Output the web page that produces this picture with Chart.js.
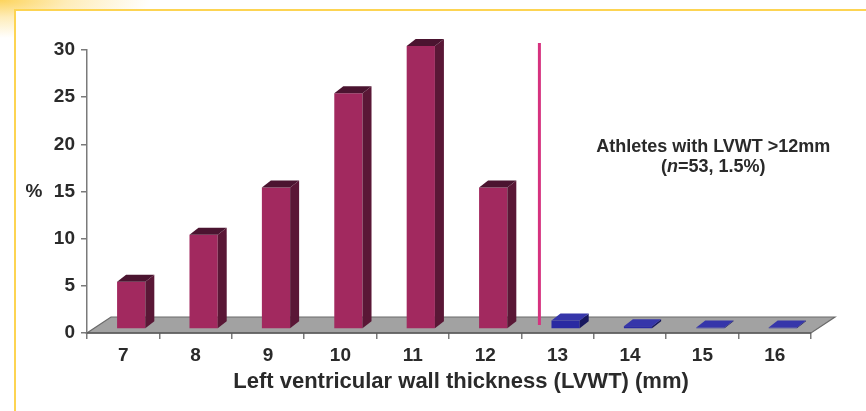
<!DOCTYPE html>
<html>
<head>
<meta charset="utf-8">
<script src="https://cdn.jsdelivr.net/npm/chart.js@4.4.0/dist/chart.umd.min.js"></script>
<style>
  html, body { margin: 0; padding: 0; background: #fff; }
  #wrap { position: relative; width: 866px; height: 411px; overflow: hidden; }
  #glow {
    position: absolute; left: 0; top: 0; width: 866px; height: 411px;
    background: radial-gradient(ellipse 150px 38px at 0 0,
      rgba(252, 204, 64, 0.85) 0%, rgba(253, 214, 100, 0.45) 45%, rgba(255, 255, 255, 0) 100%);
  }
  #frame {
    position: absolute; left: 14px; top: 9px; width: 900px; height: 500px;
    border-top: 2px solid #fdd452; border-left: 2px solid #fdd452; background: #fff;
  }
  canvas { position: absolute; left: 0; top: 0; }
</style>
</head>
<body>
<div id="wrap">
  <div id="glow"></div>
  <div id="frame"></div>
  <canvas id="c" width="866" height="411"></canvas>
</div>
<script>
// Left ventricular wall thickness categories (mm) and share of athletes (%)
const thicknessMm = ['7', '8', '9', '10', '11', '12', '13', '14', '15', '16'];
const athletesPct = [5, 10, 15, 25, 30, 15, 0.9, 0.3, 0.15, 0.15];
const yTicks = [0, 5, 10, 15, 20, 25, 30];
const cutoffMm = 12;
const noteLine1 = 'Athletes with LVWT >12mm';
const noteLine2 = [['(', false], ['n', true], ['=53, 1.5%)', false]];
const xTitle = 'Left ventricular wall thickness (LVWT) (mm)';
const yTitle = '%';

const FONT = '"Liberation Sans", Arial, sans-serif';
const INK = '#2a2a2a';
const AXIS = '#7a7a7a';
const FACES = {
  normal: { front: '#a2295f', side: '#5a1736', top: '#4b1430' },
  high:   { front: '#2a2aa2', side: '#17175e', top: '#3636aa' }
};
const BAR_SHIFT = { x: 8, y: -4 };     // bars sit midway into the floor depth
const BAR_DEPTH = { x: 9, y: -7 };     // extrusion of each bar
const FLOOR_DEPTH = { x: 24, y: -16 }; // depth of the floor plane

const faceFor = i => (Number(thicknessMm[i]) > cutoffMm ? FACES.high : FACES.normal);

const depth3d = {
  id: 'depth3d',
  beforeDatasetsDraw(chart) {
    const { ctx, chartArea: a } = chart;
    // floor plane
    ctx.save();
    ctx.beginPath();
    ctx.moveTo(a.left, a.bottom);
    ctx.lineTo(a.right, a.bottom);
    ctx.lineTo(a.right + FLOOR_DEPTH.x, a.bottom + FLOOR_DEPTH.y);
    ctx.lineTo(a.left + FLOOR_DEPTH.x, a.bottom + FLOOR_DEPTH.y);
    ctx.closePath();
    ctx.fillStyle = '#a2a2a2';
    ctx.fill();
    ctx.lineWidth = 1.2;
    ctx.strokeStyle = '#6a6a6a';
    ctx.stroke();
    ctx.beginPath();
    ctx.moveTo(a.left, a.bottom);
    ctx.lineTo(a.right, a.bottom);
    ctx.strokeStyle = '#5a5a5a';
    ctx.lineWidth = 1.5;
    ctx.stroke();
    ctx.restore();
    // front faces are drawn by the library, shifted into the floor
    ctx.save();
    ctx.translate(BAR_SHIFT.x, BAR_SHIFT.y);
  },
  afterDatasetsDraw(chart) {
    const { ctx } = chart;
    ctx.restore();
    const meta = chart.getDatasetMeta(0);
    meta.data.forEach((bar, i) => {
      const p = bar.getProps(['x', 'y', 'base', 'width'], true);
      const l = p.x - p.width / 2 + BAR_SHIFT.x;
      const r = p.x + p.width / 2 + BAR_SHIFT.x;
      const t = p.y + BAR_SHIFT.y;
      const b = p.base + BAR_SHIFT.y;
      const f = faceFor(i);
      ctx.save();
      // side face
      ctx.beginPath();
      ctx.moveTo(r, t);
      ctx.lineTo(r + BAR_DEPTH.x, t + BAR_DEPTH.y);
      ctx.lineTo(r + BAR_DEPTH.x, b + BAR_DEPTH.y);
      ctx.lineTo(r, b);
      ctx.closePath();
      ctx.fillStyle = f.side;
      ctx.fill();
      // top face
      ctx.beginPath();
      ctx.moveTo(l, t);
      ctx.lineTo(l + BAR_DEPTH.x, t + BAR_DEPTH.y);
      ctx.lineTo(r + BAR_DEPTH.x, t + BAR_DEPTH.y);
      ctx.lineTo(r, t);
      ctx.closePath();
      ctx.fillStyle = f.top;
      ctx.fill();
      ctx.restore();
    });
  },
  afterDraw(chart) {
    const { ctx, chartArea: a } = chart;
    const xs = chart.scales.x, ys = chart.scales.y;
    ctx.save();
    // cutoff marker between 12 mm and 13 mm
    const cx = xs.getPixelForValue(thicknessMm.indexOf(String(cutoffMm)) + 0.5) + FLOOR_DEPTH.x * 0.75;
    ctx.beginPath();
    ctx.moveTo(cx, ys.getPixelForValue(30) + BAR_DEPTH.y);
    ctx.lineTo(cx, a.bottom + FLOOR_DEPTH.y / 2);
    ctx.strokeStyle = '#d6327f';
    ctx.lineWidth = 3;
    ctx.stroke();

    ctx.fillStyle = INK;
    ctx.textBaseline = 'middle';
    // note
    const nx = xs.getPixelForValue(8.15);
    const ny = ys.getPixelForValue(19.7);
    ctx.textAlign = 'center';
    ctx.font = 'bold 18px ' + FONT;
    ctx.fillText(noteLine1, nx, ny);
    const fonts = noteLine2.map(([, it]) => (it ? 'italic bold 18px ' : 'bold 18px ') + FONT);
    const widths = noteLine2.map(([s], k) => { ctx.font = fonts[k]; return ctx.measureText(s).width; });
    let x = nx - widths.reduce((s, w) => s + w, 0) / 2;
    ctx.textAlign = 'left';
    noteLine2.forEach(([s], k) => { ctx.font = fonts[k]; ctx.fillText(s, x, ny + 20); x += widths[k]; });

    // axis titles
    ctx.textAlign = 'center';
    ctx.font = 'bold 22px ' + FONT;
    ctx.fillText(xTitle, (xs.left + xs.right + FLOOR_DEPTH.x) / 2, a.bottom + 49);
    ctx.font = 'bold 19px ' + FONT;
    ctx.fillText(yTitle, 34, ys.getPixelForValue(15));
    ctx.restore();
  }
};

const tickFont = { family: FONT, size: 19, weight: 'bold' };

new Chart(document.getElementById('c'), {
  type: 'bar',
  data: {
    labels: thicknessMm,
    datasets: [{
      data: athletesPct,
      backgroundColor: athletesPct.map((_, i) => faceFor(i).front),
      borderWidth: 0,
      barPercentage: 0.39,
      categoryPercentage: 1,
      clip: false
    }]
  },
  options: {
    responsive: false,
    animation: false,
    events: [],
    layout: { padding: { left: 0, right: 55, top: 50, bottom: 0 } },
    plugins: { legend: { display: false }, tooltip: { enabled: false } },
    scales: {
      x: {
        grid: { offset: true, drawOnChartArea: false, tickLength: 6, color: AXIS, lineWidth: 1.5 },
        border: { display: false },
        ticks: { font: tickFont, color: INK, padding: 5 },
        afterFit(s) { s.height = 78; }
      },
      y: {
        min: 0, max: 30,
        afterBuildTicks(s) { s.ticks = yTicks.map(v => ({ value: v })); },
        grid: { drawOnChartArea: false, tickLength: 6, color: AXIS, lineWidth: 1.5 },
        border: { color: AXIS, width: 1.5 },
        ticks: { font: tickFont, color: INK, padding: 6 },
        afterFit(s) { s.width = 87; }
      }
    }
  },
  plugins: [depth3d]
});
</script>
</body>
</html>
